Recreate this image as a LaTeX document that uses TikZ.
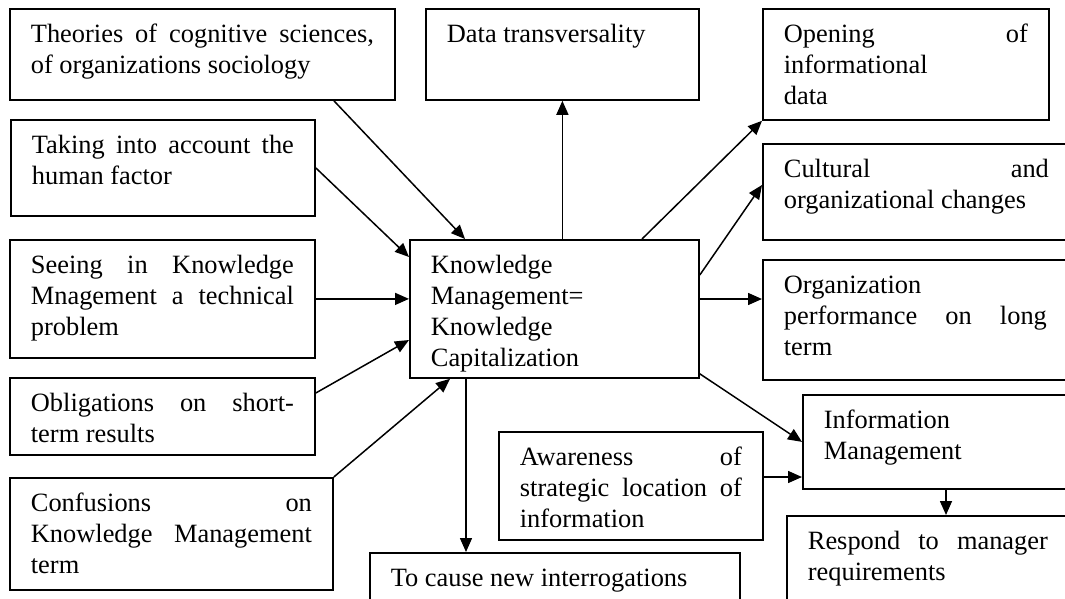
\documentclass[tikz,border=0pt]{standalone}
\usepackage{fontspec}
\setmainfont{Liberation Serif}
\usepackage{tikz}
\usetikzlibrary{arrows.meta, positioning, calc}
\newcommand{\kmfont}{\fontsize{26.4}{31}\selectfont\hyphenpenalty=10000\tolerance=10000}

\begin{document}
\begin{tikzpicture}
  [
    x=1pt, y=1pt,
    Box/.style={draw=black, line width=1.8pt, anchor=north west, inner xsep=21pt, inner ysep=0pt, text height=34pt, align=justify, font=\kmfont},
    Arrow/.style={->, draw=black, line width=1.5pt},
    >={Triangle[length=14pt, width=12pt]}
  ]
  \useasboundingbox (0,0) rectangle (1065,-598);
  % Nodes
  \node[Box, text width=343pt, text depth=57pt] (theo) at (9,-8) {Theories of cognitive sciences,\linebreak of organizations sociology};
  \node[Box, text width=262pt, text depth=62pt] (taking) at (10,-119) {Taking into account the\linebreak human factor};
  \node[Box, text width=263pt, text depth=84pt] (seeing) at (9,-239) {Seeing in Knowledge\linebreak Mnagement a technical\linebreak problem};
  \node[Box, text width=263pt, text depth=43pt] (oblig) at (9,-377) {Obligations on short-\linebreak term results};
  \node[Box, text width=281pt, text depth=78pt] (confus) at (9,-477) {Confusions on\linebreak Knowledge Management\linebreak term};
  \node[Box, text width=247pt, text depth=104pt] (km) at (409,-239) {Knowledge\newline Management=\newline Knowledge\newline Capitalization};
  \node[Box, text width=231pt, text depth=57pt] (data) at (425,-8) {Data transversality};
  \node[Box, text width=244pt, text depth=77pt] (opening) at (762,-8) {Opening of\linebreak informational\newline data};
  \node[Box, text width=265pt, text depth=62pt] (cultural) at (762,-143) {Cultural and\linebreak organizational changes};
  \node[Box, text width=263pt, text depth=86pt] (orgperf) at (762,-259) {Organization\newline performance on long\linebreak term};
  \node[Box, text width=228pt, text depth=60pt] (infomgmt) at (802,-394) {Information\newline Management};
  \node[Box, text width=222pt, text depth=74pt] (aware) at (498,-431) {Awareness of\linebreak strategic location of\linebreak information};
  \node[Box, text width=240pt, text depth=76pt] (respond) at (786,-515) {Respond to manager\linebreak requirements};
  \node[Box, text width=328pt, text depth=36pt] (cause) at (369,-552) {To cause new interrogations};
  % Lines
  \path [Arrow] ($(theo.south west)!0.84!(theo.south east)$) -- ($(km.north west)+(56,0)$);
  \path [Arrow] (taking.east) -- ($(km.north west)+(0,-18)$);
  \path [Arrow] (seeing.east) -- (seeing.east -| km.west);
  \path [Arrow] ($(oblig.north east)+(0,-16)$) -- ($(km.north west)+(0,-101)$);
  \path [Arrow] (confus.north east) -- ($(km.south west)+(41,0)$);
  \path [Arrow] (data.south |- km.north) -- (data.south);
  \path [Arrow] ($(km.north west)+(233,0)$) -- (opening.south west);
  \path [Arrow] ($(km.north east)+(0,-36)$) -- ($(cultural.north west)+(0,-42)$);
  \path [Arrow] ($(km.north east)+(0,-60)$) -- ($(orgperf.north west)+(0,-40)$);
  \path [Arrow] ($(km.south east)+(0,5)$) -- (infomgmt.west);
  \path [Arrow] ($(aware.north east)+(0,-46)$) -- ($(infomgmt.north west)+(0,-83)$);
  \path [Arrow] ($(infomgmt.south west)+(144,0)$) -- ($(respond.north west)+(160,0)$);
  \path [Arrow] ($(km.south west)+(57,0)$) -- ($(cause.north west)+(97,0)$);
\end{tikzpicture}
\end{document}
